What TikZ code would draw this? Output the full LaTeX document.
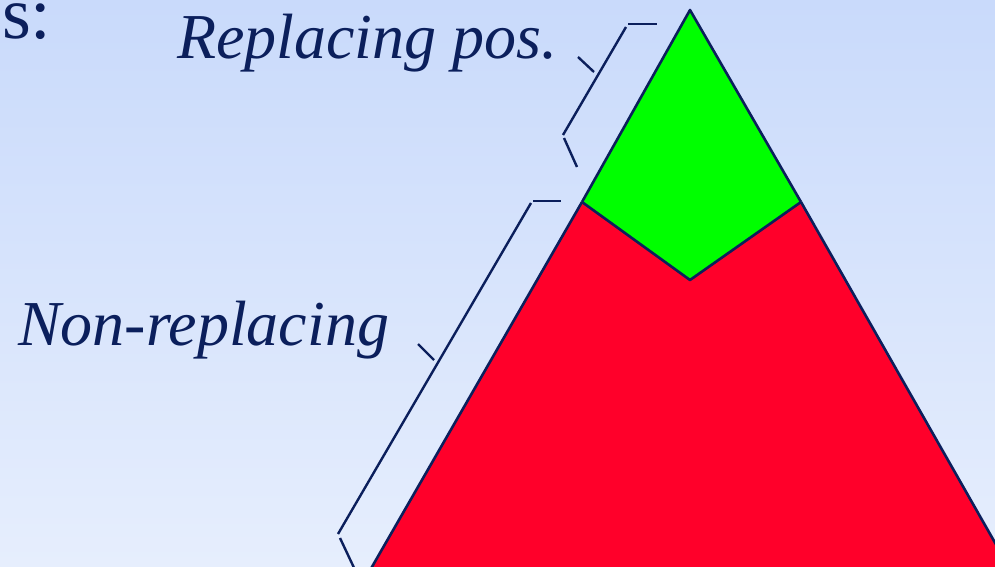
\documentclass[tikz,border=0pt]{standalone}
\usepackage{fontspec}
\setmainfont{Liberation Serif}
\definecolor{navy}{HTML}{0B1F5C}
\definecolor{bgtop}{HTML}{C9DAFB}
\definecolor{bgbot}{HTML}{E6EEFD}
\definecolor{leafgreen}{HTML}{00FF00}
\definecolor{treered}{HTML}{FF002A}
\tikzset{
  edge/.style={draw=navy, line width=2.6pt, line join=round},
  bracket/.style={draw=navy, line width=2.4pt},
  lbl/.style={text=navy, font=\fontsize{64}{72}\selectfont\itshape, inner sep=0pt, anchor=base west}
}
\begin{document}
\begin{tikzpicture}[x=1pt,y=1pt]
\shade[top color=bgtop, bottom color=bgbot] (0,0) rectangle (995,566);
\useasboundingbox (0,0) rectangle (995,566);
\clip (0,0) rectangle (995,566);
% key points
\coordinate (gT) at (690,556);
\coordinate (gL) at (582,364);
\coordinate (gB) at (690,286);
\coordinate (gR) at (801,364);
\coordinate (rR) at (1006,4);
\coordinate (rL) at (369,-6);
% red part
\fill[treered] (gL) -- (gB) -- (gR) -- (rR) -- (1010,-10) -- (rL) -- cycle;
\draw[edge] (gR) -- (rR);
\draw[edge] (gL) -- (rL);
% green part
\fill[leafgreen] (gT) -- (gL) -- (gB) -- (gR) -- cycle;
\draw[edge] (gL) -- (gT) -- (gR);
\draw[edge] (gL) -- (gB) -- (gR);
% replacing bracket
\coordinate (a1) at (628,542); \coordinate (a2) at (657,542);
\coordinate (a3) at (626,539); \coordinate (a4) at (563,431);
\coordinate (a5) at (578,509); \coordinate (a6) at (594,494);
\coordinate (a7) at (564,428); \coordinate (a8) at (577,399);
\draw[bracket] (a1) -- (a2);
\draw[bracket] (a3) -- (a4);
\draw[bracket] (a5) -- (a6);
\draw[bracket] (a7) -- (a8);
% non-replacing bracket
\coordinate (b1) at (533,365); \coordinate (b2) at (561,365);
\coordinate (b3) at (531,363); \coordinate (b4) at (338,32);
\coordinate (b5) at (418,222); \coordinate (b6) at (434,206);
\coordinate (b7) at (340,28); \coordinate (b8) at (356,-6);
\draw[bracket] (b1) -- (b2);
\draw[bracket] (b3) -- (b4);
\draw[bracket] (b5) -- (b6);
\draw[bracket] (b7) -- (b8);
% labels
\node[lbl] (rep) at (177,507) {Replacing pos.};
\node[lbl] (non) at (18,221) {Non-replacing};
\node[text=navy, font=\fontsize{74}{80}\selectfont, inner sep=0pt, anchor=base west] (title) at (2,527) {s:};
\end{tikzpicture}
\end{document}
